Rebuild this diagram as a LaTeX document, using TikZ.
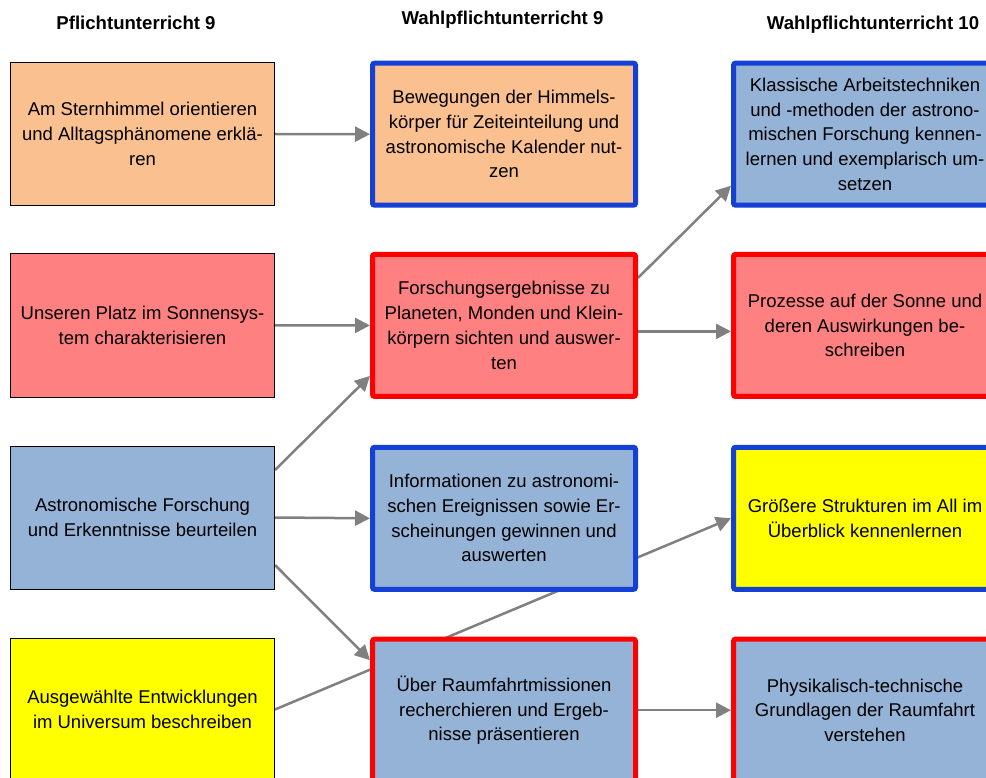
\documentclass[tikz,border=0pt]{standalone}
\usepackage{fontspec}
\setmainfont{Liberation Sans}
\usetikzlibrary{arrows.meta,backgrounds}
\definecolor{tanfill}{HTML}{FAC090}
\definecolor{redfill}{HTML}{FF8080}
\definecolor{bluefill}{HTML}{95B3D7}
\definecolor{yellowfill}{HTML}{FFFF00}
\definecolor{blueline}{HTML}{1440D6}
\definecolor{redline}{HTML}{FF0000}
\definecolor{linkgray}{HTML}{808080}
\begin{document}
\begin{tikzpicture}[x=1pt, y=-1pt,
    box/.style={rectangle, inner sep=0pt, align=center,
        font=\fontsize{18.5}{24.7}\selectfont, minimum height=143pt},
    plainbox/.style={box, draw=black, line width=1pt, minimum width=264pt},
    thickbox/.style={box, line width=5pt, rounded corners=2pt,
        minimum width=263pt, minimum height=142pt},
    head/.style={font=\fontsize{18.6}{22}\selectfont\bfseries},
    link/.style={draw=linkgray, line width=2.5pt,
        -{Triangle[length=15pt, width=15pt]}}]
    \useasboundingbox (0,0) rectangle (986,778);
    \clip (0,0) rectangle (986,778);
    \node[head] (t1) at (136,23) {Pflichtunterricht 9};
    \node[head] (t2) at (502.5,20) {Wahlpflichtunterricht 9};
    \node[head] (t3) at (873,25) {Wahlpflichtunterricht 10};
    \node[plainbox, fill=tanfill] (p1) at (142.5,134) {Am Sternhimmel orientieren\\und Alltagsphänomene erklä-\\ren};
    \node[plainbox, fill=redfill] (p2) at (142.5,325.5) {Unseren Platz im Sonnensys-\\tem charakterisieren};
    \node[plainbox, fill=bluefill] (p3) at (142.5,517.5) {Astronomische Forschung\\und Erkenntnisse beurteilen};
    \node[plainbox, fill=yellowfill] (p4) at (142.5,709.5) {Ausgewählte Entwicklungen\\im Universum beschreiben};
    \node[thickbox, draw=blueline, fill=tanfill] (w1) at (504,134.2) {Bewegungen der Himmels-\\körper für Zeiteinteilung und\\astronomische Kalender nut-\\zen};
    \node[thickbox, draw=redline, fill=redfill] (w2) at (504,325.4) {Forschungsergebnisse zu\\Planeten, Monden und Klein-\\körpern sichten und auswer-\\ten};
    \node[thickbox, draw=blueline, fill=bluefill] (w3) at (504,518.3) {Informationen zu astronomi-\\schen Ereignissen sowie Er-\\scheinungen gewinnen und\\auswerten};
    \node[thickbox, draw=redline, fill=bluefill] (w4) at (504,710.2) {Über Raumfahrtmissionen\\recherchieren und Ergeb-\\nisse präsentieren};
    \node[thickbox, draw=blueline, fill=bluefill] (v1) at (865,134.2) {Klassische Arbeitstechniken\\und -methoden der astrono-\\mischen Forschung kennen-\\lernen und exemplarisch um-\\setzen};
    \node[thickbox, draw=redline, fill=redfill] (v2) at (865,325.4) {Prozesse auf der Sonne und\\deren Auswirkungen be-\\schreiben};
    \node[thickbox, draw=blueline, fill=yellowfill] (v3) at (865,518.3) {Größere Strukturen im All im\\Überblick kennenlernen};
    \node[thickbox, draw=redline, fill=bluefill] (v4) at (865,710.2) {Physikalisch-technische\\Grundlagen der Raumfahrt\\verstehen};
    \begin{pgfonlayer}{background}
        \draw[link] (p1.east) -- (w1.west);
        \draw[link] (p2.east) -- (w2.west);
        \draw[link] ([yshift=47.5pt]p3.east) -- ([yshift=23pt]w2.south west);
        \draw[link] (p3.east) -- (w3.west);
        \draw[link] ([yshift=-47.5pt]p3.east) -- ([yshift=-23.5pt]w4.north west);
        \draw[link] (p4.east) -- (v3.west);
        \draw[link] ([yshift=47.5pt]w2.east) -- ([yshift=22pt]v1.south west);
        \draw[link] ([yshift=-6pt]w2.east) -- ([yshift=-6pt]v2.west);
        \draw[link] (w4.east) -- (v4.west);
    \end{pgfonlayer}
\end{tikzpicture}
\end{document}
